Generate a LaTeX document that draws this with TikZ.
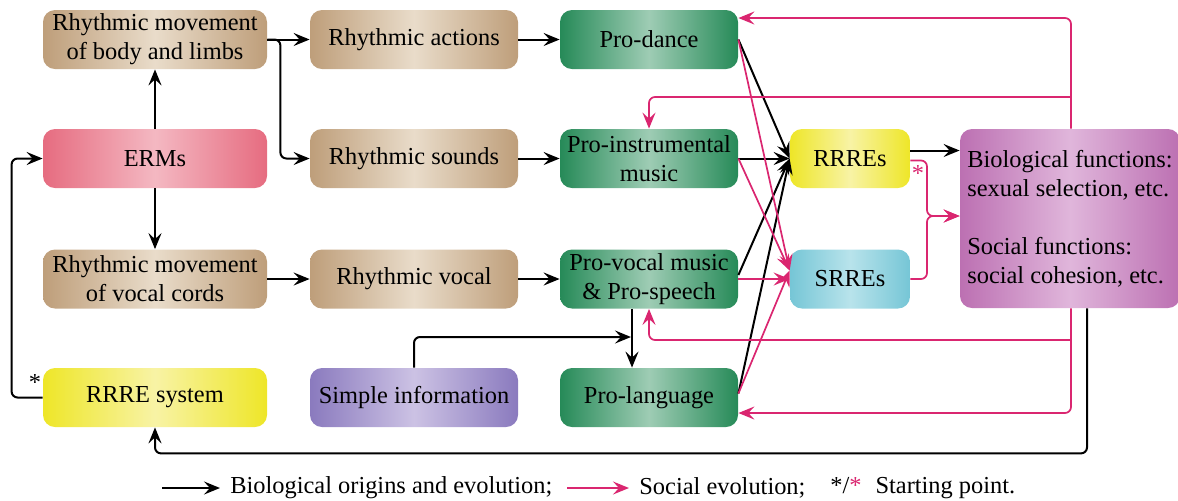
\documentclass[tikz,border=0pt]{standalone}
\usepackage{fontspec}
\setmainfont{Liberation Serif}
\usetikzlibrary{arrows.meta,positioning}

\definecolor{brownE}{RGB}{190,158,122}
\definecolor{brownM}{RGB}{233,220,202}
\definecolor{ermE}{RGB}{230,108,128}
\definecolor{ermM}{RGB}{244,184,194}
\definecolor{greenE}{RGB}{38,138,88}
\definecolor{greenM}{RGB}{158,204,180}
\definecolor{yellowE}{RGB}{238,230,40}
\definecolor{yellowM}{RGB}{248,243,165}
\definecolor{cyanE}{RGB}{118,198,214}
\definecolor{cyanM}{RGB}{184,227,235}
\definecolor{purpleE}{RGB}{138,122,190}
\definecolor{purpleM}{RGB}{204,194,228}
\definecolor{funcE}{RGB}{188,112,178}
\definecolor{funcM}{RGB}{224,182,219}
\definecolor{socpink}{RGB}{218,38,112}

\tikzset{
	box/.style={rounded corners=6pt, minimum height=29.5pt, align=center, inner sep=1pt, font=\fontsize{12.2}{14.5}\selectfont},
	brownbox/.style={box, left color=brownE, right color=brownE, middle color=brownM},
	ermbox/.style={box, left color=ermE, right color=ermE, middle color=ermM},
	greenbox/.style={box, minimum width=89pt, left color=greenE, right color=greenE, middle color=greenM},
	yellowbox/.style={box, left color=yellowE, right color=yellowE, middle color=yellowM},
	cyanbox/.style={box, left color=cyanE, right color=cyanE, middle color=cyanM},
	purplebox/.style={box, left color=purpleE, right color=purpleE, middle color=purpleM},
	funcbox/.style={box, align=left, left color=funcE, right color=funcE, middle color=funcM},
	bio/.style={-{Stealth[length=8pt,width=6.5pt,inset=3pt]}, line width=1pt, rounded corners=3pt},
	soc/.style={bio, socpink, line width=0.85pt},
	legend/.style={font=\fontsize{12.2}{14.5}\selectfont, inner sep=1pt},
}

\begin{document}
\begin{tikzpicture}[x=0.5pt, y=-0.5pt]
	\useasboundingbox (0,0) rectangle (1178,500);

	\node [brownbox, minimum width=112pt] (body) at (155,39.5) {Rhythmic movement\\of body and limbs};
	\node [ermbox, minimum width=112pt] (erms) at (155,158.5) {ERMs};
	\node [brownbox, minimum width=112pt] (cords) at (155,279) {Rhythmic movement\\of vocal cords};
	\node [yellowbox, minimum width=112pt] (system) at (155,397.5) {RRRE system};

	\node [brownbox, minimum width=104pt] (actions) at (414,39.5) {Rhythmic actions};
	\node [brownbox, minimum width=104pt] (sounds) at (414,158.5) {Rhythmic sounds};
	\node [brownbox, minimum width=104pt] (vocal) at (414,279) {Rhythmic vocal};
	\node [purplebox, minimum width=104pt] (info) at (414,397.5) {Simple information};

	\node [greenbox] (dance) at (649,39.5) {Pro-dance};
	\node [greenbox] (instr) at (649,158.5) {Pro-instrumental\\music};
	\node [greenbox] (provocal) at (649,279) {Pro-vocal music\\\& Pro-speech};
	\node [greenbox] (lang) at (649,397.5) {Pro-language};

	\node [yellowbox, minimum width=60pt] (rrres) at (850,158.5) {RRREs};
	\node [cyanbox, minimum width=60pt] (srres) at (850,279) {SRREs};

	\node [funcbox, minimum width=110pt, minimum height=89.5pt] (func) at (1070,218.5)
		{Biological functions:\\sexual selection, etc.\\[14.5pt]Social functions:\\social cohesion, etc.};

	\node [legend] (st1) at (35,382) {*};
	\node [legend, text=socpink] (st2) at (918,174) {*};

	\draw [bio] (erms) -- (body);
	\draw [bio] (erms) -- (cords);
	\draw [bio] (body) -- (actions);
	\draw [bio] (body.east) -- ++(13,0) |- (sounds.west);
	\draw [bio] (actions) -- (dance);
	\draw [bio] (sounds) -- (instr);
	\draw [bio] (cords) -- (vocal);
	\draw [bio] (vocal) -- (provocal);
	\draw [bio] ([xshift=-8.5pt]provocal.south) -- ([xshift=-8.5pt]lang.north);
	\coordinate (join) at (631,337);
	\draw [bio] (info.north) |- (join);
	\draw [bio] (system.west) -- ++(-31,0) |- (erms.west);
	\draw [bio] ([xshift=8.5pt]func.south) -- ++(0,145) -| (system.south);

	\draw [bio] (dance.east) -- (rrres.west);
	\draw [bio] (instr) -- (rrres);
	\draw [bio] ([yshift=2pt]provocal.east) -- (rrres.west);
	\draw [bio] ([yshift=2pt]lang.east) -- (rrres.west);
	\coordinate (r1) at ([yshift=4pt]rrres.east);
	\draw [bio] (r1) -- (r1 -| func.west);

	\draw [soc] (dance.east) -- (srres.172);
	\draw [soc] (instr.east) -- (srres.172);
	\draw [soc] (provocal) -- (srres);
	\draw [soc] ([yshift=2pt]lang.east) -- (srres.172);

	\coordinate (merge) at (927,216);
	\draw [soc] ([yshift=-1pt]rrres.east) -| (merge) -- (merge -| func.west);
	\draw [soc] (srres.east) -| (merge) -- (merge -| func.west);

	\draw [soc] ([xshift=0.5pt]func.north) |- ([yshift=10.75pt]dance.east);
	\coordinate (b1) at (1071,97);
	\draw [soc] (b1) -| (instr.north);
	\draw [soc] ([xshift=0.5pt]func.south) |- ([yshift=-7.75pt]lang.east);
	\coordinate (b2) at (1071,340);
	\draw [soc] (b2) -| (provocal.south);

	\node [legend, anchor=west] (l1) at (228,488) {Biological origins and evolution;};
	\node [legend, anchor=west] (l2) at (637,488) {Social evolution;};
	\node [legend, anchor=west] (l3) at (828,488) {*/\textcolor{socpink}{*}\hspace{7pt}Starting point.};
	\coordinate (k1) at (162,488);
	\coordinate (k2) at (567,488);
	\draw [bio, shorten >=4pt] (k1) -- (l1.west);
	\draw [soc, shorten >=4pt] (k2) -- (l2.west);
\end{tikzpicture}
\end{document}
